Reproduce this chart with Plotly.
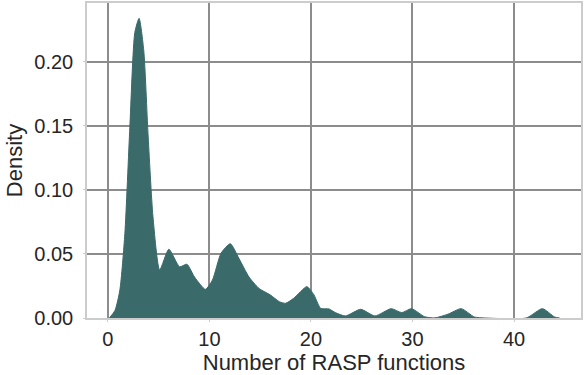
import plotly.graph_objects as go

# KDE curve
x_vals = [0.15, 0.7, 1.18, 1.67, 2.16, 2.65, 3.07, 3.53, 3.95, 4.44, 5.1, 6.0, 7.06, 7.78,
          8.53, 9.6, 10.3, 11.15, 12.06, 12.9, 13.9, 14.9, 16.0, 16.9, 17.5, 18.3, 19.6,
          20.3, 20.95, 21.8, 22.4, 23.4, 24.9, 26.3, 27.9, 28.95, 29.9, 31.2, 32.2, 33.5,
          34.8, 36.1, 37.2, 41.2, 42.8, 44.0, 44.5]
density = [0.0, 0.006, 0.022, 0.066, 0.149, 0.223, 0.234, 0.209, 0.144, 0.079, 0.0375,
           0.0537, 0.040, 0.042, 0.032, 0.0224, 0.0297, 0.0507, 0.058, 0.0466, 0.032, 0.023,
           0.018, 0.0127, 0.0115, 0.0154, 0.0245, 0.018, 0.0076, 0.007, 0.0042, 0.0016,
           0.0068, 0.0016, 0.0073, 0.0042, 0.0073, 0.001, 0.0001, 0.003, 0.0073, 0.0008,
           0.0, 0.0, 0.0073, 0.0008, 0.0]
x_ticks = [0, 10, 20, 30, 40]
y_ticks = [0.0, 0.05, 0.10, 0.15, 0.20]
y_tick_text = ["0.00", "0.05", "0.10", "0.15", "0.20"]

color = "#3a6a6a"
fig = go.Figure()
fig.add_trace(go.Scatter(
    x=x_vals, y=density, mode="lines", fill="tozeroy",
    line=dict(color=color, width=1, shape="spline", smoothing=0.6),
    fillcolor=color, hoverinfo="skip", showlegend=False))

fig.update_layout(
    width=584, height=375,
    margin=dict(l=87, r=1, t=3, b=57),
    paper_bgcolor="white", plot_bgcolor="white",
    font=dict(family="Liberation Sans, Arial, sans-serif", size=18, color="#262626"),
    xaxis=dict(range=[-2.06, 46.6], tickvals=x_ticks, showgrid=True,
               gridcolor="#8c8c8c", gridwidth=1.5, zeroline=False,
               showline=True, linecolor="#cccccc", linewidth=1.5, mirror=True,
               ticks="outside", ticklen=2, tickcolor="#cccccc",
               title=dict(text="Number of RASP functions", standoff=4),
               tickfont=dict(size=20)),
    yaxis=dict(range=[0, 0.246], tickvals=y_ticks, ticktext=y_tick_text,
               showgrid=True, gridcolor="#8c8c8c", gridwidth=1.5, zeroline=False,
               showline=True, linecolor="#cccccc", linewidth=1.5, mirror=True,
               ticks="outside", ticklen=2, tickcolor="#cccccc", ticklabelstandoff=6,
               title=dict(text="Density", standoff=6),
               tickfont=dict(size=20)),
)
fig.write_html("out.html")
